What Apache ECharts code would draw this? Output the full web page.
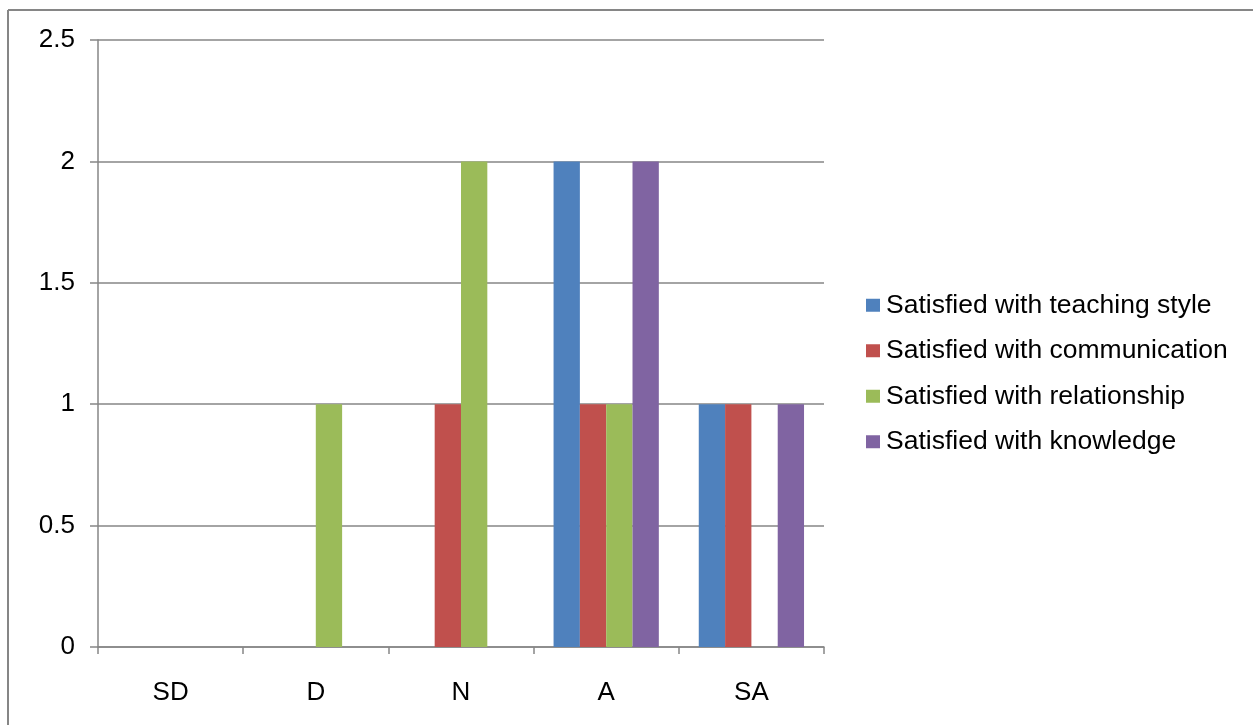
<!DOCTYPE html>
<html>
<head>
<meta charset="utf-8">
<script src="https://cdn.jsdelivr.net/npm/echarts@6/dist/echarts.min.js"></script>
<style>
html,body{margin:0;padding:0;background:#fff;}
#chart{width:1253px;height:725px;}
</style>
</head>
<body>
<div id="chart"></div>
<script>
const categories = ['SD', 'D', 'N', 'A', 'SA'];
const seriesNames = ['Satisfied with teaching style', 'Satisfied with communication', 'Satisfied with relationship', 'Satisfied with knowledge'];
const teachingStyle = [0, 0, 0, 2, 1];
const communication = [0, 0, 1, 1, 1];
const relationship = [0, 1, 2, 1, 0];
const knowledge = [0, 0, 0, 2, 1];
const yTicks = [0, 0.5, 1, 1.5, 2, 2.5];

const colors = ['#4F81BD', '#C0504D', '#9BBB59', '#8064A2'];
const values = [teachingStyle, communication, relationship, knowledge];
const FONT = '"Liberation Sans", Arial, sans-serif';
const chart = echarts.init(document.getElementById('chart'), null, {renderer: 'canvas'});

chart.setOption({
  animation: false,
  backgroundColor: '#fff',
  color: colors,
  textStyle: {fontFamily: FONT, color: '#000'},
  grid: {left: 98, top: 40, width: 726, height: 607, containLabel: false},
  legend: {
    orient: 'vertical',
    left: 861,
    top: 286,
    itemWidth: 14,
    itemHeight: 13,
    itemGap: 17,
    icon: 'rect',
    textStyle: {fontFamily: FONT, fontSize: 26.5, color: '#000', lineHeight: 28.5, padding: [0,0,0,1]},
    data: seriesNames
  },
  xAxis: {
    type: 'category',
    data: categories,
    axisLine: {lineStyle: {color: '#868686', width: 1.5}},
    axisTick: {show: true, alignWithLabel: false, length: 7, lineStyle: {color: '#868686', width: 1.5}},
    axisLabel: {fontFamily: FONT, fontSize: 26, color: '#000', margin: 33}
  },
  yAxis: {
    type: 'value',
    min: 0,
    max: 2.5,
    interval: 0.5,
    axisLine: {show: true, lineStyle: {color: '#868686', width: 1.5}},
    axisTick: {show: true, length: 8, lineStyle: {color: '#868686', width: 1.5}},
    splitLine: {lineStyle: {color: '#868686', width: 1.5}},
    axisLabel: {fontFamily: FONT, fontSize: 26, color: '#000', margin: 23,
      formatter: v => yTicks.includes(v) ? String(v) : ''}
  },
  series: seriesNames.map((n, i) => ({
    name: n,
    type: 'bar',
    data: values[i],
    barGap: '0%',
    barCategoryGap: '27.5%',
    itemStyle: {color: colors[i]}
  })),
  graphic: [
    {type: 'line', silent: true, shape: {x1: 8, y1: 10, x2: 1260, y2: 10}, style: {stroke: '#868686', lineWidth: 2}},
    {type: 'line', silent: true, shape: {x1: 8, y1: 10, x2: 8, y2: 730}, style: {stroke: '#868686', lineWidth: 2}}
  ]
});
</script>
</body>
</html>
